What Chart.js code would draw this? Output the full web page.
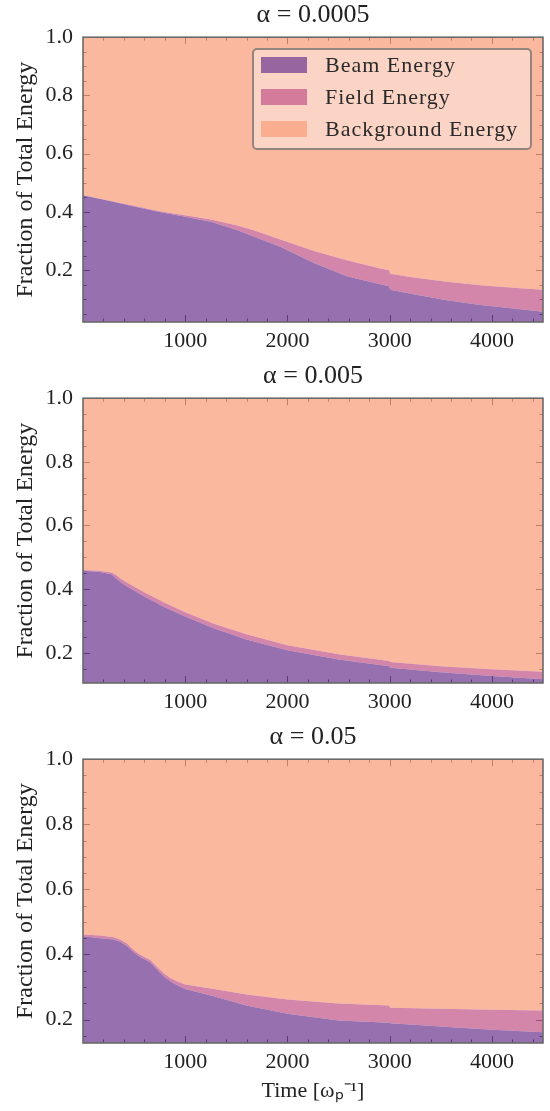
<!DOCTYPE html>
<html>
<head>
<meta charset="utf-8">
<script src="https://cdn.jsdelivr.net/npm/chart.js@4.4.1/dist/chart.umd.min.js"></script>
<style>
    body { margin: 0; background: #fff; }
    #wrap { position: relative; width: 550px; height: 1111px; }
    #wrap canvas { position: absolute; left: 0; }
    .legend {
        position: absolute; left: 252px; top: 48px; width: 276px; height: 98px;
        border: 2px solid rgba(80, 80, 80, 0.6); border-radius: 5px;
        background: rgba(255, 255, 255, 0.4);
        font-family: 'Liberation Serif', serif; font-size: 22px; color: #2a2a2a;
        letter-spacing: 1px; z-index: 2;
    }
    .legend .row { position: absolute; left: 0; width: 100%; height: 32px; line-height: 32px; }
    .legend .sw { position: absolute; left: 7px; top: 8px; width: 46px; height: 16px; }
    .legend .txt { position: absolute; left: 71px; top: 0; white-space: nowrap; }
</style>
</head>
<body>
<div id="wrap">
    <canvas id="c1" width="550" height="361" style="top:0px"></canvas>
    <canvas id="c2" width="550" height="361" style="top:361px"></canvas>
    <canvas id="c3" width="550" height="389" style="top:722px"></canvas>
    <div class="legend" id="legend"></div>
</div>
<script>
const panelTitles = ['α = 0.0005', 'α = 0.005', 'α = 0.05'];
const seriesNames = ['Beam Energy', 'Field Energy', 'Background Energy'];

// alpha = 0.0005
const time1 = [0, 250, 500, 750, 1000, 1250, 1500, 1670, 1930, 2260, 2580, 2910, 2995, 3005, 3235, 3560, 3890, 4210, 4500];
const beam1 = [0.457, 0.438, 0.419, 0.400, 0.383, 0.366, 0.339, 0.316, 0.280, 0.225, 0.179, 0.152, 0.145, 0.133, 0.117, 0.097, 0.080, 0.068, 0.057];
const field1 = [0.000, 0.001, 0.002, 0.002, 0.006, 0.008, 0.015, 0.021, 0.025, 0.041, 0.055, 0.054, 0.055, 0.055, 0.058, 0.063, 0.068, 0.072, 0.076];
const background1 = [0.543, 0.561, 0.579, 0.598, 0.611, 0.626, 0.646, 0.663, 0.695, 0.734, 0.766, 0.794, 0.800, 0.812, 0.825, 0.840, 0.852, 0.860, 0.867];

// alpha = 0.005
const time2 = [0, 150, 280, 330, 380, 450, 600, 800, 1000, 1280, 1600, 2000, 2500, 2995, 3005, 3500, 4000, 4500];
const beam2 = [0.458, 0.455, 0.447, 0.432, 0.419, 0.405, 0.377, 0.343, 0.314, 0.277, 0.242, 0.208, 0.179, 0.158, 0.153, 0.139, 0.127, 0.117];
const field2 = [0.002, 0.003, 0.005, 0.011, 0.011, 0.012, 0.013, 0.014, 0.013, 0.014, 0.016, 0.016, 0.016, 0.016, 0.018, 0.019, 0.021, 0.023];
const background2 = [0.540, 0.542, 0.548, 0.557, 0.570, 0.583, 0.610, 0.643, 0.673, 0.709, 0.742, 0.776, 0.805, 0.826, 0.829, 0.842, 0.852, 0.860];

// alpha = 0.05
const time3 = [0, 170, 300, 365, 430, 496, 545, 593, 659, 724, 789, 854, 919, 1000, 1280, 1600, 2000, 2500, 2995, 3005, 3500, 4000, 4500];
const beam3 = [0.456, 0.450, 0.446, 0.439, 0.426, 0.407, 0.395, 0.387, 0.376, 0.354, 0.333, 0.318, 0.306, 0.294, 0.272, 0.243, 0.218, 0.197, 0.190, 0.189, 0.179, 0.169, 0.161];
const field3 = [0.005, 0.008, 0.007, 0.007, 0.008, 0.007, 0.007, 0.007, 0.007, 0.008, 0.009, 0.010, 0.012, 0.014, 0.022, 0.034, 0.044, 0.052, 0.053, 0.047, 0.054, 0.061, 0.067];
const background3 = [0.539, 0.542, 0.547, 0.554, 0.566, 0.586, 0.598, 0.606, 0.617, 0.638, 0.658, 0.672, 0.682, 0.692, 0.706, 0.723, 0.738, 0.751, 0.757, 0.764, 0.767, 0.770, 0.772];

const yMins = [0.022, 0.105, 0.128];
const xTicks = [1000, 2000, 3000, 4000];
const yTicks = [0.2, 0.4, 0.6, 0.8, 1.0];

const fillColors = ['rgba(116,66,148,0.75)', 'rgba(198,92,142,0.75)', 'rgba(248,160,126,0.75)'];
const FONT = "'Liberation Serif', serif";
const TEXT = '#222';

// inward ticks on all four sides + the frame, like the matplotlib style
const frameTicks = {
    id: 'frameTicks',
    beforeDatasetsDraw(chart) {
        const { ctx, chartArea: a, scales: { x, y } } = chart;
        ctx.save();
        ctx.strokeStyle = '#222';
        ctx.lineWidth = 1;
        for (let i = 1; i * 200 < x.max; i++) {
            const v = i * 200;
            const len = v % 1000 === 0 ? 7 : 3.5;
            const px = Math.round(x.getPixelForValue(v)) + 0.5;
            ctx.beginPath();
            ctx.moveTo(px, a.bottom); ctx.lineTo(px, a.bottom - len);
            ctx.moveTo(px, a.top); ctx.lineTo(px, a.top + len);
            ctx.stroke();
        }
        for (let i = 1; i < 20; i++) {
            const v = i / 20;
            if (v <= y.min) continue;
            const len = i % 4 === 0 ? 7 : 3.5;
            const py = Math.round(y.getPixelForValue(v)) + 0.5;
            ctx.beginPath();
            ctx.moveTo(a.left, py); ctx.lineTo(a.left + len, py);
            ctx.moveTo(a.right, py); ctx.lineTo(a.right - len, py);
            ctx.stroke();
        }
        ctx.restore();
    },
    afterDatasetsDraw(chart) {
        const { ctx, chartArea: a } = chart;
        ctx.save();
        ctx.strokeStyle = '#6a6a6a';
        ctx.lineWidth = 1.6;
        ctx.strokeRect(a.left, a.top, a.right - a.left, a.bottom - a.top);
        ctx.restore();
    }
};

function points(time, vals) {
    return time.map((t, i) => ({ x: t, y: vals[i] }));
}

function makePanel(canvasId, idx, time, beam, field, background) {
    const isLast = idx === 2;
    const series = [beam, field, background];
    return new Chart(document.getElementById(canvasId), {
        type: 'line',
        data: {
            datasets: series.map((vals, k) => ({
                label: seriesNames[k],
                data: points(time, vals),
                backgroundColor: fillColors[k],
                borderColor: 'transparent',
                borderWidth: 0,
                pointRadius: 0,
                tension: 0,
                fill: k === 0 ? 'start' : '-1'
            }))
        },
        options: {
            responsive: false,
            animation: false,
            devicePixelRatio: 1,
            layout: { padding: { left: 0, right: 7, top: 0, bottom: 0 } },
            plugins: {
                legend: { display: false },
                tooltip: { enabled: false },
                title: {
                    display: true,
                    fullSize: false, // center over the plot area, not the canvas
                    text: panelTitles[idx],
                    color: TEXT,
                    font: { family: FONT, size: 26, weight: 'normal' },
                    padding: { top: 0, bottom: 6 }
                }
            },
            scales: {
                x: {
                    type: 'linear',
                    min: 0,
                    max: 4500,
                    afterBuildTicks: s => { s.ticks = xTicks.map(v => ({ value: v })); },
                    afterFit: s => { s.height = isLast ? 68 : 39; },
                    grid: { display: false, drawTicks: false },
                    border: { display: false },
                    ticks: {
                        padding: 6,
                        maxRotation: 0,
                        color: TEXT,
                        font: { family: FONT, size: 22 },
                        callback: v => String(v)
                    },
                    title: {
                        display: isLast,
                        text: 'Time [ωₚ⁻¹]',
                        color: TEXT,
                        font: { family: FONT, size: 22 },
                        padding: { top: 0, bottom: 7 }
                    }
                },
                y: {
                    stacked: true,
                    min: yMins[idx],
                    max: 1,
                    afterBuildTicks: s => { s.ticks = yTicks.map(v => ({ value: v })); },
                    afterFit: s => { s.width = 83; },
                    grid: { display: false, drawTicks: false },
                    border: { display: false },
                    ticks: {
                        padding: 10,
                        color: TEXT,
                        font: { family: FONT, size: 22 },
                        callback: v => v.toFixed(1)
                    },
                    title: {
                        display: true,
                        text: 'Fraction of Total Energy',
                        color: TEXT,
                        font: { family: FONT, size: 24 },
                        padding: { top: 11, bottom: 0 }
                    }
                }
            }
        },
        plugins: [frameTicks]
    });
}

const chart1 = makePanel('c1', 0, time1, beam1, field1, background1);
makePanel('c2', 1, time2, beam2, field2, background2);
makePanel('c3', 2, time3, beam3, field3, background3);

// legend box drawn over the first panel, built from the chart's datasets
const legendBox = document.getElementById('legend');
chart1.data.datasets.forEach((ds, i) => {
    const row = document.createElement('div');
    row.className = 'row';
    row.style.top = (-1 + i * 32) + 'px';
    const sw = document.createElement('span');
    sw.className = 'sw';
    sw.style.background = ds.backgroundColor;
    const txt = document.createElement('span');
    txt.className = 'txt';
    txt.textContent = ds.label;
    row.appendChild(sw);
    row.appendChild(txt);
    legendBox.appendChild(row);
});
</script>
</body>
</html>
